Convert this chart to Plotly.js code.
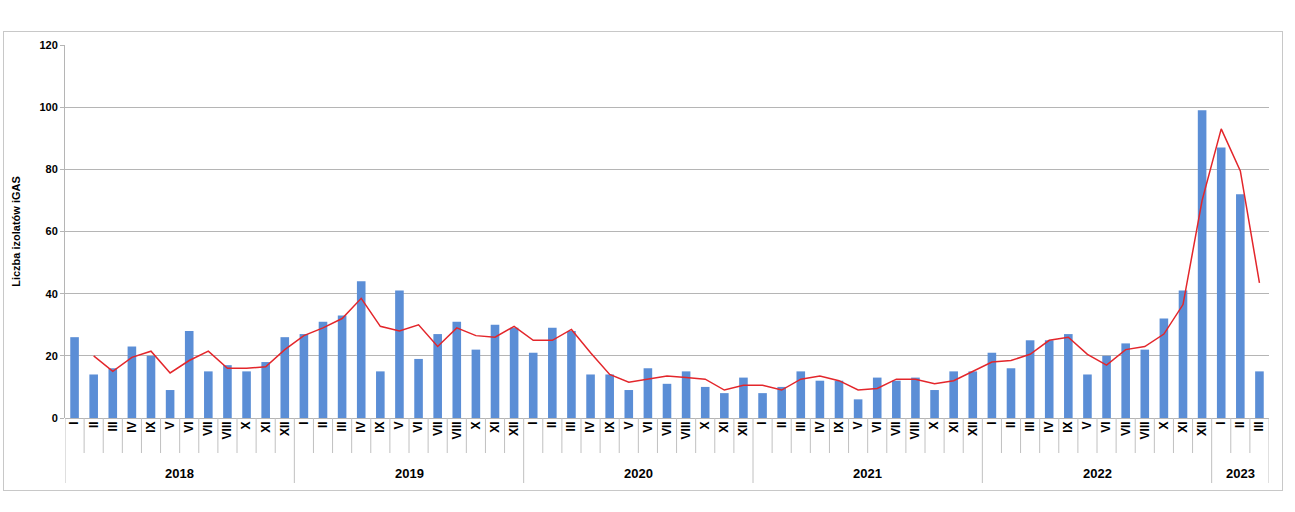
<!DOCTYPE html>
<html>
<head>
<meta charset="utf-8">
<script src="https://cdn.plot.ly/plotly-3.0.1.min.js"></script>
<style>
  html, body { margin: 0; padding: 0; background: #fff; }
  #wrap { position: relative; width: 1295px; height: 512px; }
  #chart { position: absolute; left: 0; top: 0; width: 1295px; height: 512px; }
  #frame { position: absolute; left: 3px; top: 31px; width: 1278px; height: 458px; border: 1px solid #c8c8c8; pointer-events: none; }
</style>
</head>
<body>
<div id="wrap">
  <div id="chart"></div>
  <div id="frame"></div>
</div>
<script>
// Category labels (month order as printed in the source chart)
const monthLabels = ['I','II','III','IV','IX','V','VI','VII','VIII','X','XI','XII'];
const years = ['2018','2019','2020','2021','2022','2023'];
const monthsPerYear = [12, 12, 12, 12, 12, 3];

// Number of iGAS isolates per month
const counts2018 = [26, 14, 16, 23, 20, 9, 28, 15, 17, 15, 18, 26];
const counts2019 = [27, 31, 33, 44, 15, 41, 19, 27, 31, 22, 30, 29];
const counts2020 = [21, 29, 28, 14, 14, 9, 16, 11, 15, 10, 8, 13];
const counts2021 = [8, 10, 15, 12, 12, 6, 13, 12, 13, 9, 15, 15];
const counts2022 = [21, 16, 25, 25, 27, 14, 20, 24, 22, 32, 41, 99];
const counts2023 = [87, 72, 15];

// Red trend line (2-month moving average)
const trend2018 = [null, 20, 15, 19.5, 21.5, 14.5, 18.5, 21.5, 16, 16, 16.5, 22];
const trend2019 = [26.5, 29, 32, 38.5, 29.5, 28, 30, 23, 29, 26.5, 26, 29.5];
const trend2020 = [25, 25, 28.5, 21, 14, 11.5, 12.5, 13.5, 13, 12.5, 9, 10.5];
const trend2021 = [10.5, 9, 12.5, 13.5, 12, 9, 9.5, 12.5, 12.5, 11, 12, 15];
const trend2022 = [18, 18.5, 20.5, 25, 26, 20.5, 17, 22, 23, 27, 36.5, 70];
const trend2023 = [93, 79.5, 43.5];

const countsByYear = [counts2018, counts2019, counts2020, counts2021, counts2022, counts2023];
const trendByYear = [trend2018, trend2019, trend2020, trend2021, trend2022, trend2023];

const xs = [], tickText = [], yVals = [], tVals = [];
const yearStart = [];
let idx = 0;
years.forEach((yr, k) => {
  yearStart.push(idx);
  for (let m = 0; m < monthsPerYear[k]; m++) {
    xs.push(idx);
    tickText.push(monthLabels[m]);
    yVals.push(countsByYear[k][m]);
    tVals.push(trendByYear[k][m]);
    idx++;
  }
});
const n = idx;

const FONT = 'Liberation Sans, Arial, sans-serif';

const traces = [
  {
    type: 'bar', x: xs, y: yVals,
    marker: { color: '#5b8ed6' },
    hoverinfo: 'y', showlegend: false
  },
  {
    type: 'scatter', mode: 'lines', x: xs, y: tVals,
    line: { color: '#e3262b', width: 1.5 },
    connectgaps: false, hoverinfo: 'y', showlegend: false
  }
];

// separators under the axis
const shapes = [];
for (let i = 0; i <= n; i++) {
  const isYear = yearStart.includes(i) || i === n;
  shapes.push({
    type: 'line', xref: 'x', yref: 'paper',
    ysizemode: 'pixel', yanchor: 0,
    x0: i - 0.5, x1: i - 0.5, y0: 0, y1: isYear ? -65 : -35,
    line: { color: '#c0c0c0', width: 1 }
  });
}

const annotations = years.map((yr, k) => ({
  xref: 'x', yref: 'paper',
  x: yearStart[k] + (monthsPerYear[k] - 1) / 2,
  y: 0, yanchor: 'middle', yshift: -55,
  text: yr, showarrow: false,
  font: { family: FONT, size: 13, color: '#000', weight: 'bold' }
}));

const layout = {
  width: 1295, height: 512,
  margin: { l: 65, r: 26, t: 45, b: 94 },
  paper_bgcolor: '#ffffff', plot_bgcolor: '#ffffff',
  bargap: 0.55,
  xaxis: {
    type: 'linear', range: [-0.5, n - 0.5],
    tickmode: 'array', tickvals: xs, ticktext: tickText,
    tickangle: -90, ticks: '',
    tickfont: { family: FONT, size: 12, color: '#000', weight: 'bold' },
    showgrid: false, zeroline: false, showline: false,
    fixedrange: true
  },
  yaxis: {
    range: [0, 120], dtick: 20, tick0: 0,
    showgrid: true, gridcolor: '#b5b5b5', gridwidth: 1,
    zeroline: true, zerolinecolor: '#b5b5b5', zerolinewidth: 1,
    showline: true, linecolor: '#b5b5b5', linewidth: 1,
    ticks: 'outside', ticklen: 4, tickcolor: '#b5b5b5',
    tickfont: { family: FONT, size: 11, color: '#000', weight: 'bold' },
    title: { text: 'Liczba izolatów iGAS', standoff: 16,
             font: { family: FONT, size: 11, color: '#000', weight: 'bold' } },
    fixedrange: true
  },
  shapes: shapes,
  annotations: annotations
};

Plotly.newPlot('chart', traces, layout, { displayModeBar: false, staticPlot: true });
</script>
</body>
</html>
